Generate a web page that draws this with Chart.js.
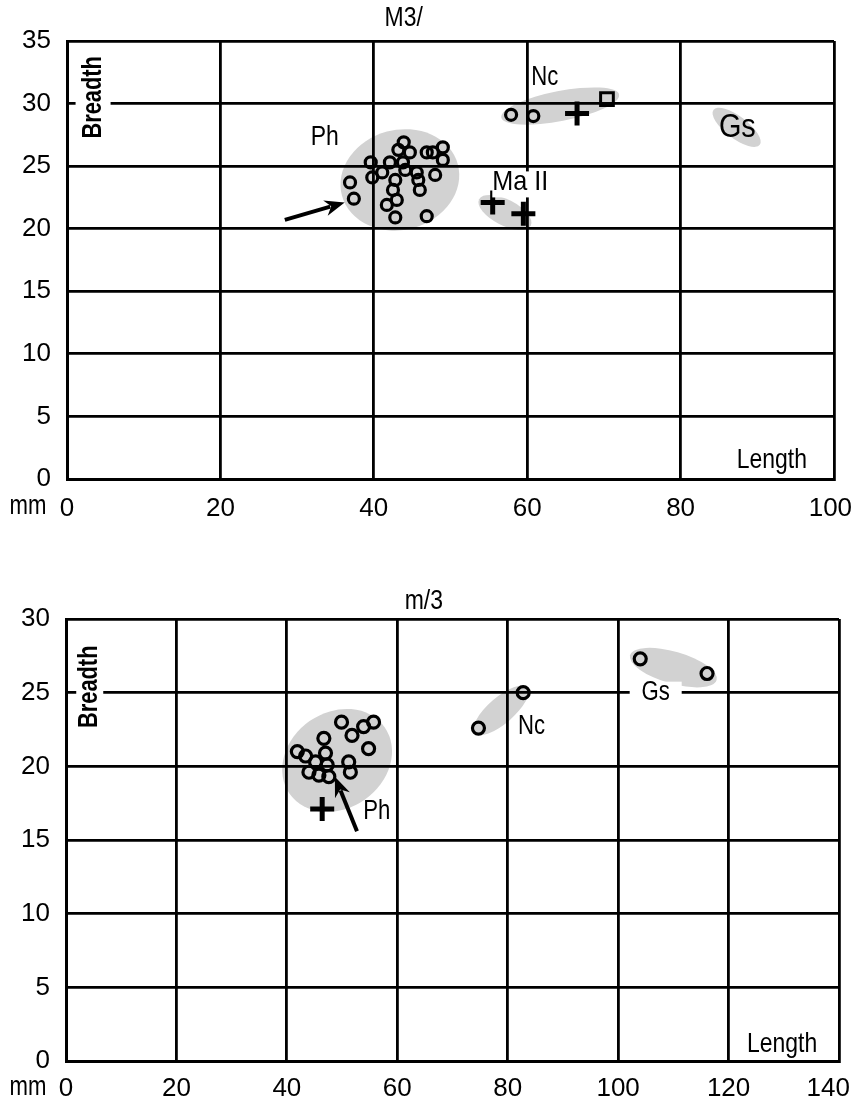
<!DOCTYPE html>
<html><head><meta charset="utf-8">
<script src="https://cdn.jsdelivr.net/npm/chart.js@4.4.1/dist/chart.umd.min.js"></script>
<style>
html,body{margin:0;padding:0;background:#fff;width:856px;height:1099px;overflow:hidden;}
#c1{position:absolute;left:0;top:0;}
#c2{position:absolute;left:0;top:560px;}
</style></head><body>
<canvas id="c1" width="856" height="560"></canvas>
<canvas id="c2" width="856" height="539"></canvas>
<script>
// ---------- data: upper chart (M3/) ----------
const topXTicks = [0, 20, 40, 60, 80, 100];
const topYTicks = [0, 5, 10, 15, 20, 25, 30, 35];
const phTopLength  = [36.9, 37.4, 39.6, 39.8, 41.1, 42.1, 42.8, 42.5, 41.7, 43.0, 42.8, 43.2, 43.9, 43.8, 44.1, 44.7, 45.6, 45.8, 46.0, 46.9, 47.7, 49.0, 49.0, 48.0, 46.9];
const phTopBreadth = [23.7, 22.4, 25.3, 24.1, 24.5, 25.3, 23.9, 23.1, 21.9, 22.3, 20.9, 26.3, 26.9, 25.3, 24.7, 26.1, 24.5, 23.9, 23.1, 26.1, 26.1, 26.5, 25.5, 24.3, 21.0];
const ncTopCircleLength  = [57.9, 60.8];
const ncTopCircleBreadth = [29.1, 29.0];
const ncTopPlusLength  = [66.5];
const ncTopPlusBreadth = [29.2];
const ncTopSquareLength  = [70.4];
const ncTopSquareBreadth = [30.35];
const maTopPlusLength  = [55.5, 59.5];
const maTopPlusBreadth = [22.1, 21.2];

// ---------- data: lower chart (m/3) ----------
const botXTicks = [0, 20, 40, 60, 80, 100, 120, 140];
const botYTicks = [0, 5, 10, 15, 20, 25, 30];
const phBotLength  = [49.9, 51.8, 53.9, 55.7, 54.8, 46.7, 47.0, 41.9, 43.4, 44.0, 45.2, 45.8, 47.3, 47.6, 51.2, 51.5];
const phBotBreadth = [23.0, 22.1, 22.7, 23.0, 21.2, 21.9, 20.9, 21.0, 20.7, 19.6, 20.3, 19.4, 20.1, 19.3, 20.3, 19.6];
const phBotPlusLength  = [46.4];
const phBotPlusBreadth = [17.1];
const ncBotLength  = [82.8, 74.7];
const ncBotBreadth = [25.0, 22.6];
const gsBotLength  = [104.0, 116.1];
const gsBotBreadth = [27.3, 26.3];

// ---------- styling / annotation ----------
const FONT = "'Liberation Sans',Arial,sans-serif";
const pts = (xs, ys) => xs.map((v, i) => ({x: v, y: ys[i]}));

const overlay = {
  id: 'overlay',
  beforeDraw(chart, args, o) {
    const ctx = chart.ctx, xs = chart.scales.x, ys = chart.scales.y;
    ctx.save();
    ctx.fillStyle = '#d2d2d2';
    o.ellipses.forEach(e => {
      ctx.beginPath();
      ctx.ellipse(xs.getPixelForValue(e.x), ys.getPixelForValue(e.y), e.rx, e.ry, e.rot * Math.PI / 180, 0, Math.PI * 2);
      ctx.fill();
    });
    ctx.restore();
  },
  afterDraw(chart, args, o) {
    const ctx = chart.ctx, xs = chart.scales.x, ys = chart.scales.y;
    ctx.save();
    o.arrows.forEach(a => {
      const x1 = xs.getPixelForValue(a.x1), y1 = ys.getPixelForValue(a.y1);
      const x2 = xs.getPixelForValue(a.x2), y2 = ys.getPixelForValue(a.y2);
      const ang = Math.atan2(y2 - y1, x2 - x1), hl = 20, hw = 8;
      const bx = x2 - Math.cos(ang) * hl, by = y2 - Math.sin(ang) * hl;
      ctx.strokeStyle = '#000'; ctx.lineWidth = 4;
      ctx.beginPath(); ctx.moveTo(x1, y1); ctx.lineTo(bx + Math.cos(ang) * 5, by + Math.sin(ang) * 5); ctx.stroke();
      ctx.fillStyle = '#000';
      ctx.beginPath();
      ctx.moveTo(x2, y2);
      ctx.lineTo(bx + Math.sin(ang) * hw, by - Math.cos(ang) * hw);
      ctx.lineTo(x2 - Math.cos(ang) * hl * 0.7, y2 - Math.sin(ang) * hl * 0.7);
      ctx.lineTo(bx - Math.sin(ang) * hw, by + Math.cos(ang) * hw);
      ctx.closePath(); ctx.fill();
    });
    o.labels.forEach(l => {
      const px = xs.getPixelForValue(l.x), py = ys.getPixelForValue(l.y);
      if (l.mask) {
        ctx.fillStyle = '#fff';
        ctx.fillRect(px - l.mask[0] / 2 + (l.mask[2] || 0), py - l.mask[1] / 2 + (l.mask[3] || 0), l.mask[0], l.mask[1]);
      }
      ctx.save();
      ctx.translate(px, py);
      if (l.rot) ctx.rotate(l.rot * Math.PI / 180);
      ctx.scale(l.sx || 0.82, 1);
      ctx.fillStyle = '#000';
      ctx.font = (l.bold ? 'bold ' : '') + l.size + 'px ' + FONT;
      ctx.textAlign = 'center'; ctx.textBaseline = 'middle';
      ctx.fillText(l.text, 0, 0);
      ctx.restore();
    });
    ctx.restore();
  }
};

function axis(min, max, ticks, fitProp, fitVal, pad, lastPad) {
  return {
    type: 'linear', min: min, max: max,
    afterBuildTicks: s => { s.ticks = ticks.map(v => ({value: v})); },
    afterFit: s => { s[fitProp] = fitVal; s.paddingLeft = 0; s.paddingRight = 0; s.paddingTop = 0; s.paddingBottom = 0; },
    grid: {color: '#000', lineWidth: 2.8, drawTicks: false},
    border: {color: '#000', width: 3},
    ticks: {
      color: '#000', font: {family: FONT, size: 26}, padding: pad, maxRotation: 0, autoSkip: false,
      callback: (v, i, arr) => (i === arr.length - 1 && lastPad) ? String(v) + lastPad : String(v)
    }
  };
}

function circleSet(data, r) {
  return {data: data, pointStyle: 'circle', pointRadius: r, pointBorderWidth: 3.2, pointBorderColor: '#000', pointBackgroundColor: 'rgba(0,0,0,0)', showLine: false};
}
function plusSet(data) {
  return {data: data, pointStyle: 'cross', pointRadius: 12, pointBorderWidth: 5, pointBorderColor: '#000', showLine: false};
}
function squareSet(data) {
  return {data: data, pointStyle: 'rect', pointRadius: 9, pointBorderWidth: 3, pointBorderColor: '#000', pointBackgroundColor: 'rgba(0,0,0,0)', showLine: false};
}

function build(id, scales, padding, datasets, ov) {
  return new Chart(document.getElementById(id), {
    type: 'scatter',
    data: {datasets: datasets},
    options: {
      responsive: false, animation: false, events: [],
      layout: {padding: padding},
      scales: scales,
      plugins: {legend: {display: false}, tooltip: {enabled: false}, title: {display: false}, overlay: ov}
    },
    plugins: [overlay]
  });
}

build('c1',
  {x: axis(0, 100, topXTicks, 'height', 81, 14, ' '), y: axis(0, 35, topYTicks, 'width', 67, 16, '')},
  {top: 41, right: 22, left: 0, bottom: 0},
  [
    circleSet(pts(phTopLength, phTopBreadth), 5.5),
    circleSet(pts(ncTopCircleLength, ncTopCircleBreadth), 5.5),
    plusSet(pts(ncTopPlusLength, ncTopPlusBreadth)),
    squareSet(pts(ncTopSquareLength, ncTopSquareBreadth)),
    plusSet(pts(maTopPlusLength, maTopPlusBreadth))
  ],
  {
    ellipses: [
      {x: 43.4, y: 23.9, rx: 60, ry: 50, rot: -15},
      {x: 64.3, y: 29.8, rx: 60, ry: 15, rot: -11},
      {x: 57.1, y: 21.3, rx: 29, ry: 13, rot: 27},
      {x: 87.3, y: 28.1, rx: 29, ry: 11, rot: 37}
    ],
    arrows: [{x1: 28.4, y1: 20.7, x2: 36.2, y2: 22.1}],
    labels: [
      {text: 'M3/', x: 43.9, y: 36.85, size: 28},
      {text: 'Breadth', x: 3.4, y: 30.5, size: 28, bold: true, rot: -90, sx: 0.78, mask: [35, 88]},
      {text: 'Ph', x: 33.6, y: 27.3, size: 28},
      {text: 'Nc', x: 62.3, y: 32.1, size: 27},
      {text: 'Ma II', x: 59.1, y: 23.7, size: 28, sx: 0.9, mask: [68, 26, 6, 2]},
      {text: 'Gs', x: 87.4, y: 28.1, size: 34, sx: 0.85},
      {text: 'Length', x: 91.9, y: 1.5, size: 28},
      {text: 'mm', x: -5.1, y: -2.2, size: 27}
    ]
  });

build('c2',
  {x: axis(0, 140, botXTicks, 'height', 38, 12, '   '), y: axis(0, 30, botYTicks, 'width', 66, 16, '')},
  {top: 59, right: 14, left: 0, bottom: 0},
  [
    circleSet(pts(phBotLength, phBotBreadth), 6),
    plusSet(pts(phBotPlusLength, phBotPlusBreadth)),
    circleSet(pts(ncBotLength, ncBotBreadth), 6),
    circleSet(pts(gsBotLength, gsBotBreadth), 6)
  ],
  {
    ellipses: [
      {x: 49.1, y: 20.4, rx: 58, ry: 48, rot: -35},
      {x: 78.8, y: 23.8, rx: 35, ry: 13, rot: -41},
      {x: 110.0, y: 26.7, rx: 45, ry: 16, rot: 16}
    ],
    arrows: [{x1: 52.7, y1: 15.6, x2: 48.7, y2: 19.3}],
    labels: [
      {text: 'm/3', x: 64.8, y: 31.2, size: 28},
      {text: 'Breadth', x: 4.3, y: 25.4, size: 28, bold: true, rot: -90, sx: 0.78, mask: [27, 88]},
      {text: 'Ph', x: 56.3, y: 16.9, size: 27},
      {text: 'Nc', x: 84.3, y: 22.7, size: 27},
      {text: 'Gs', x: 106.8, y: 25.0, size: 27, mask: [52, 22]},
      {text: 'Length', x: 129.7, y: 1.15, size: 28},
      {text: 'mm', x: -6.9, y: -1.77, size: 27}
    ]
  });
</script>
</body></html>
